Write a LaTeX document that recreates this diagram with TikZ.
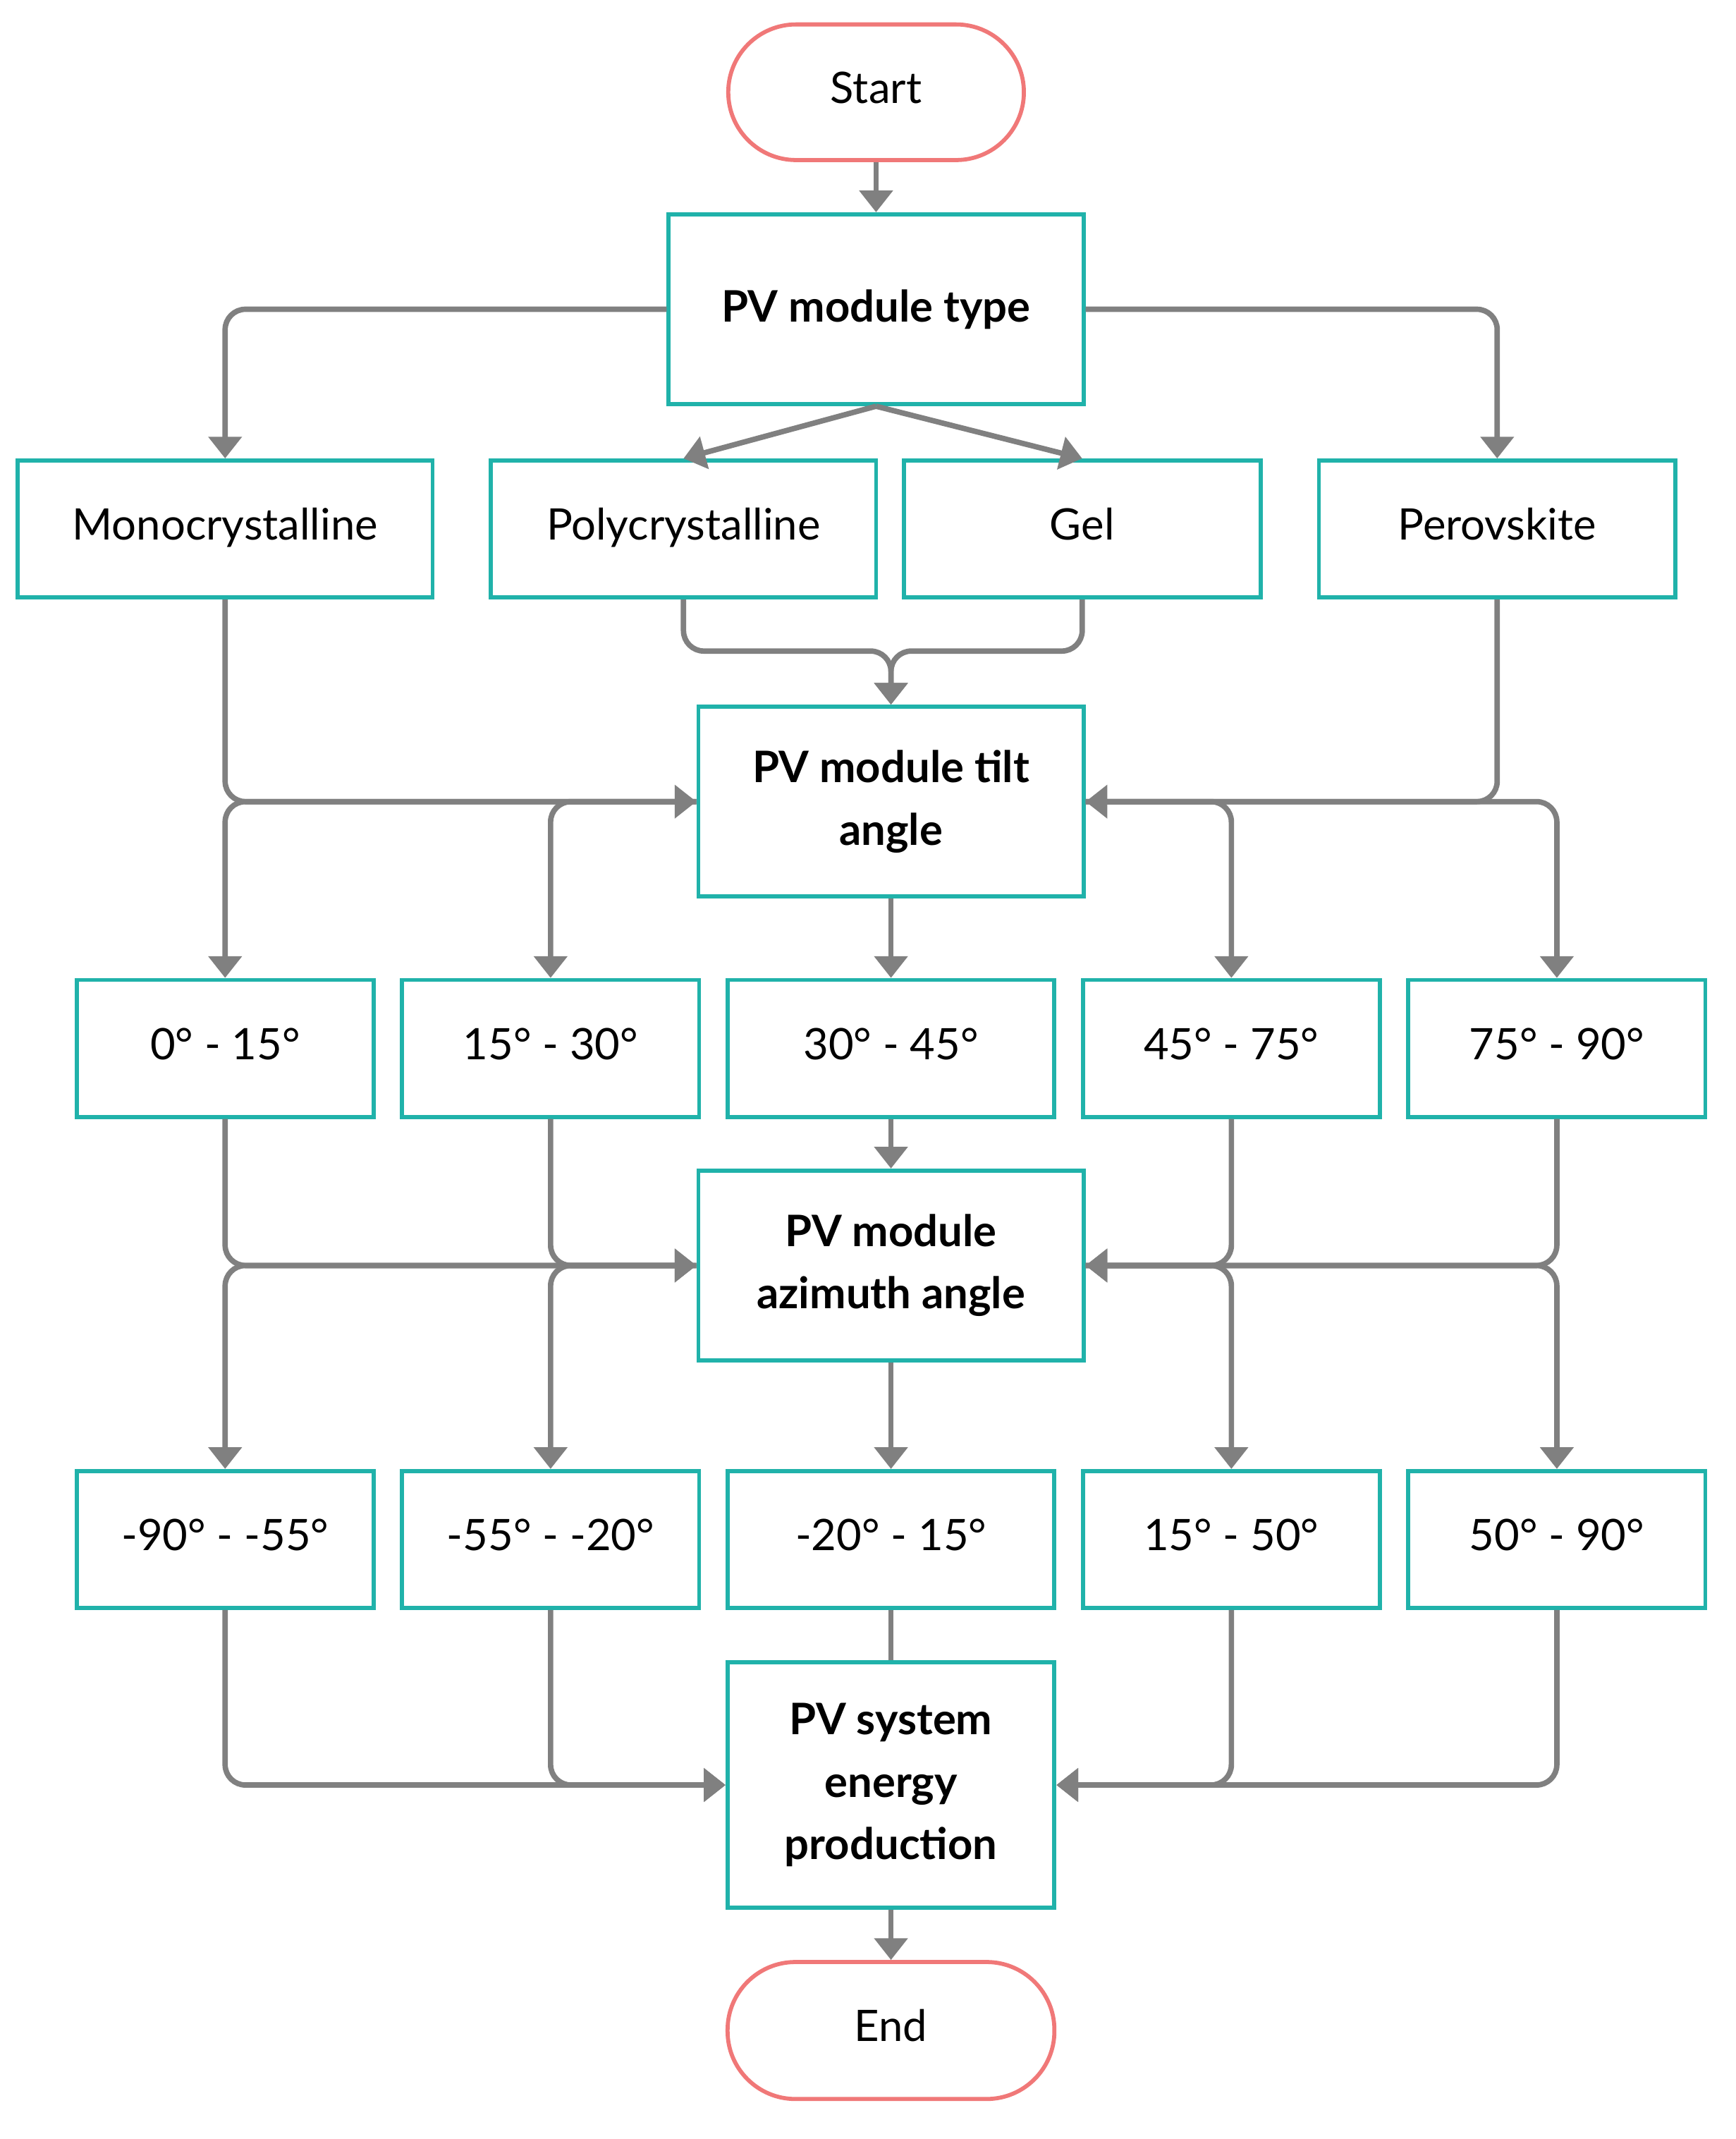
\documentclass[tikz,border=0pt]{standalone}
\usepackage{fontspec}
\setmainfont{Lato}
\usetikzlibrary{arrows.meta}
\definecolor{teal1}{RGB}{32,178,170}
\definecolor{pink1}{RGB}{240,120,120}
\definecolor{line1}{RGB}{128,128,128}
\begin{document}
\begin{tikzpicture}[x=1pt,y=-1pt,
  base/.style={draw=teal1,line width=3pt,fill=white,inner sep=0pt,align=center},
  box/.style={base,font=\fontsize{32}{46}\selectfont,text height=23pt,text depth=7pt},
  bbox/.style={base,font=\fontsize{32}{46}\selectfont\bfseries},
  term/.style={draw=pink1,line width=3pt,fill=white,rounded corners=50pt,inner sep=0pt,font=\fontsize{32}{46}\selectfont,text height=23pt,text depth=7pt},
  ln/.style={draw=line1,line width=4pt,rounded corners=15pt},
  ar/.style={ln,-{Triangle[length=16pt,width=24pt]}}]
\useasboundingbox (0,0) rectangle (1280,1577);
\node[term,minimum width=218pt,minimum height=100pt] (start) at (646,68) {Start};
\node[bbox,minimum width=306pt,minimum height=140pt] (type) at (646,228) {PV module type};
\node[box,minimum width=306pt,minimum height=101pt] (mono) at (166,390) {Monocrystalline};
\node[box,minimum width=284pt,minimum height=101pt] (poly) at (504,390) {Polycrystalline};
\node[box,minimum width=263pt,minimum height=101pt] (gel) at (798,390) {Gel};
\node[box,minimum width=263pt,minimum height=101pt] (perov) at (1104,390) {Perovskite};
\node[bbox,minimum width=284pt,minimum height=140pt] (tilt) at (657,591) {PV module tilt\\angle};
\foreach \n/\x/\t in {a1/166/0° - 15°,a2/406/15° - 30°,a4/908/45° - 75°,a5/1148/75° - 90°}
  \node[box,minimum width=219pt,minimum height=101pt] (\n) at (\x,773) {\t};
\node[box,minimum width=241pt,minimum height=101pt] (a3) at (657,773) {30° - 45°};
\node[bbox,minimum width=284pt,minimum height=140pt] (azi) at (657,933) {PV module\\azimuth angle};
\foreach \n/\x/\t in {b1/166/-90° - -55°,b2/406/-55° - -20°,b4/908/15° - 50°,b5/1148/50° - 90°}
  \node[box,minimum width=219pt,minimum height=101pt] (\n) at (\x,1135) {\t};
\node[box,minimum width=241pt,minimum height=101pt] (b3) at (657,1135) {-20° - 15°};
\node[bbox,minimum width=241pt,minimum height=181pt] (en) at (657,1316) {PV system\\energy\\production};
\node[term,minimum width=241pt,minimum height=101pt] (end) at (657,1497) {End};
% connectors
\draw[ar] (start) -- (type);
\draw[ar] (type.west) -| (mono.north);
\draw[ar] (type.east) -| (perov.north);
\draw[ar,rounded corners=0pt] (type.south) -- (poly.north);
\draw[ar,rounded corners=0pt] (type.south) -- (gel.north);
\draw[ar] (poly.south) |- (657,480) -- (tilt.north);
\draw[ar] (gel.south) |- (657,480) -- (tilt.north);
\draw[ar] (mono.south) |- (tilt.west);
\draw[ar] (perov.south) |- (tilt.east);
\draw[ar] (tilt.west) -| (a1.north);
\draw[ar] (tilt.west) -| (a2.north);
\draw[ar] (tilt.east) -| (a4.north);
\draw[ar] (tilt.east) -| (a5.north);
\draw[ar] (tilt) -- (a3);
\draw[ar] (a1.south) |- (azi.west);
\draw[ar] (a2.south) |- (azi.west);
\draw[ar] (a4.south) |- (azi.east);
\draw[ar] (a5.south) |- (azi.east);
\draw[ar] (a3) -- (azi);
\draw[ar] (azi.west) -| (b1.north);
\draw[ar] (azi.west) -| (b2.north);
\draw[ar] (azi.east) -| (b4.north);
\draw[ar] (azi.east) -| (b5.north);
\draw[ar] (azi) -- (b3);
\draw[ar] (b1.south) |- (en.west);
\draw[ar] (b2.south) |- (en.west);
\draw[ar] (b4.south) |- (en.east);
\draw[ar] (b5.south) |- (en.east);
\draw[ln] (b3) -- (en);
\draw[ar] (en) -- (end);
\end{tikzpicture}
\end{document}
